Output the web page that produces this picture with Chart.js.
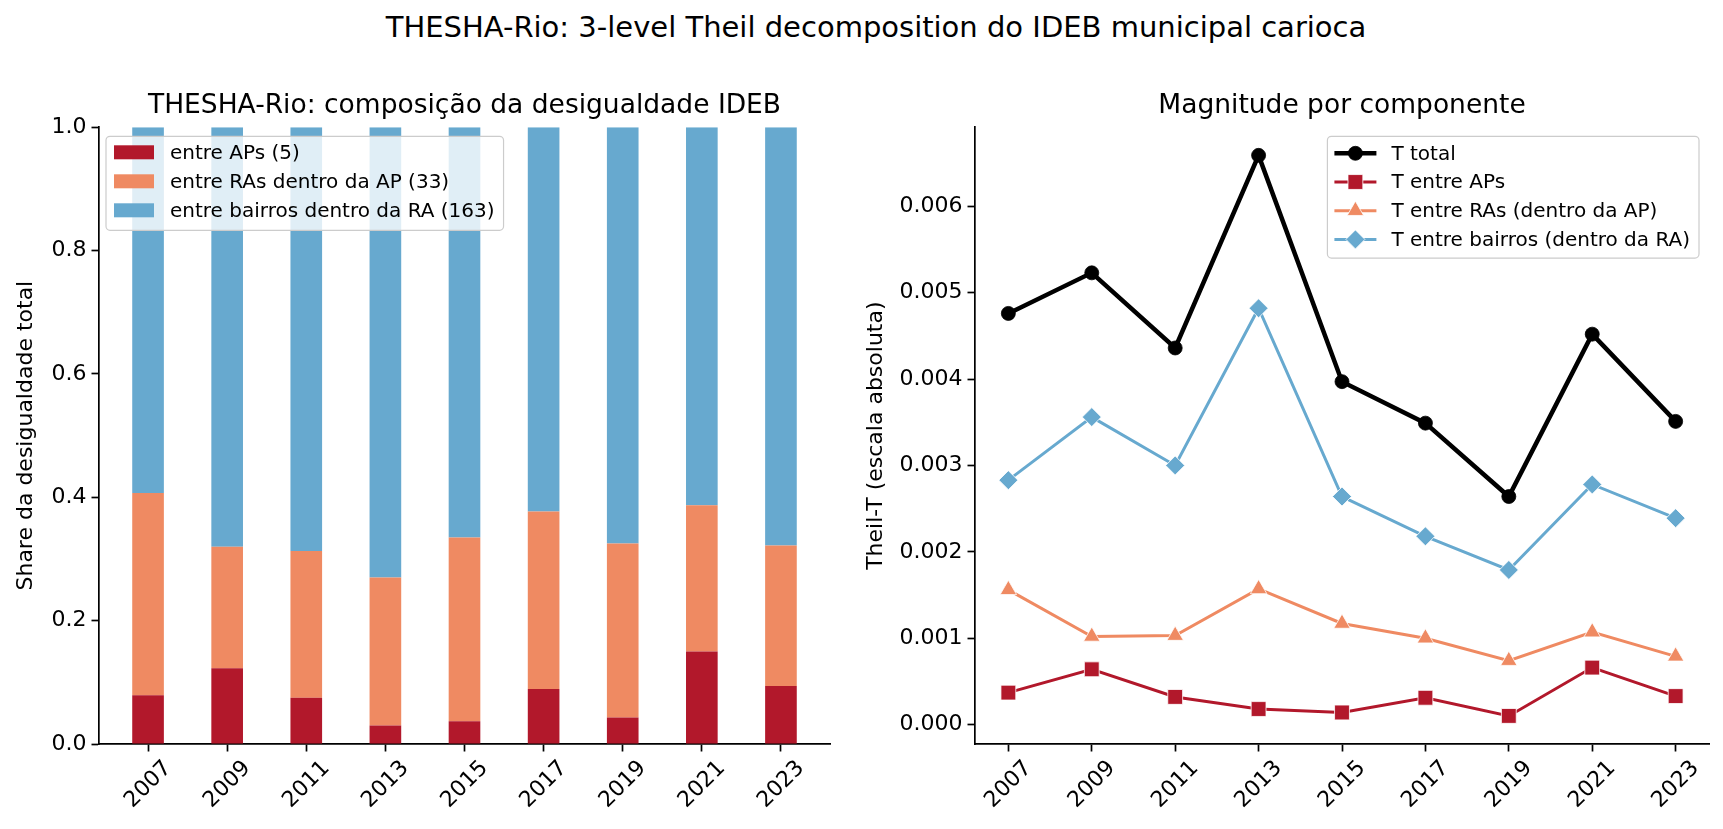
<!DOCTYPE html>
<html>
<head>
<meta charset="utf-8">
<script src="https://cdn.jsdelivr.net/npm/chart.js@4.4.1/dist/chart.umd.min.js"></script>
<style>
  body { margin: 0; background: #fff; width: 1723px; height: 829px; overflow: hidden; position: relative; font-family: 'DejaVu Sans', sans-serif; }
  #suptitle { position: absolute; left: 876px; top: 13px; transform: translateX(-50%); font-size: 29px; line-height: 29px; white-space: nowrap; color: #000; }
  .box { position: absolute; top: 0; height: 829px; }
  #leftBox { left: 0; width: 860px; }
  #rightBox { left: 860px; width: 863px; }
</style>
</head>
<body>
<div id="suptitle">THESHA-Rio: 3-level Theil decomposition do IDEB municipal carioca</div>
<div class="box" id="leftBox"><canvas id="shareChart"></canvas></div>
<div class="box" id="rightBox"><canvas id="magChart"></canvas></div>
<script>
// anos e valores
var years = ['2007', '2009', '2011', '2013', '2015', '2017', '2019', '2021', '2023'];

var shareAPs     = [0.079, 0.123, 0.075, 0.030, 0.037, 0.089, 0.043, 0.150, 0.094];
var shareRAs     = [0.328, 0.197, 0.238, 0.240, 0.298, 0.288, 0.282, 0.237, 0.228];
var shareBairros = [0.593, 0.680, 0.687, 0.730, 0.665, 0.623, 0.675, 0.613, 0.678];

var tTotal   = [0.00476, 0.00523, 0.00436, 0.00659, 0.00397, 0.00349, 0.00264, 0.00452, 0.00351];
var tAPs     = [0.00037, 0.00064, 0.00032, 0.00018, 0.00014, 0.00031, 0.00010, 0.00066, 0.00033];
var tRAs     = [0.00156, 0.00102, 0.00103, 0.00157, 0.00117, 0.00100, 0.00074, 0.00107, 0.00079];
var tBairros = [0.00283, 0.00356, 0.00300, 0.00482, 0.00264, 0.00218, 0.00179, 0.00278, 0.00239];

var C_AP = '#b2182b', C_RA = '#ef8a62', C_BA = '#67a9cf';

Chart.defaults.font.family = "'DejaVu Sans', sans-serif";
Chart.defaults.color = '#000';

function pts(arr) {
    return arr.map(function(v, i) { return {x: i, y: v}; });
}

function drawMarker(ctx, style, x, y, r, fill, stroke, lw) {
    ctx.beginPath();
    if (style === 'circle') {
        ctx.arc(x, y, r, 0, Math.PI * 2);
    } else if (style === 'rect') {
        var s = r * Math.SQRT1_2;
        ctx.rect(x - s, y - s, 2 * s, 2 * s);
    } else if (style === 'triangle') {
        for (var k = 0; k < 3; k++) {
            var a = k * 2 * Math.PI / 3;
            ctx.lineTo(x + Math.sin(a) * r, y - Math.cos(a) * r);
        }
        ctx.closePath();
    } else if (style === 'rectRot') {
        ctx.moveTo(x - r, y);
        ctx.lineTo(x, y - r);
        ctx.lineTo(x + r, y);
        ctx.lineTo(x, y + r);
        ctx.closePath();
    }
    ctx.fillStyle = fill;
    ctx.fill();
    if (lw) {
        ctx.lineWidth = lw;
        ctx.strokeStyle = stroke;
        ctx.stroke();
    }
}

// legenda em caixa dentro da area do grafico (estilo matplotlib)
var boxLegend = {
    id: 'boxLegend',
    afterDraw: function(chart, args, opts) {
        var ctx = chart.ctx, area = chart.chartArea;
        var ds = chart.data.datasets;
        ctx.save();
        ctx.font = '20px "DejaVu Sans"';
        var tw = 0;
        ds.forEach(function(d) { tw = Math.max(tw, ctx.measureText(d.label).width); });
        var w = 64 + tw + 9, h = ds.length * opts.row + 7;
        var x0 = opts.align === 'right' ? area.right - 10 - w : area.left + 7;
        var y0 = area.top + 9;
        ctx.beginPath();
        ctx.roundRect(x0, y0, w, h, 4);
        ctx.fillStyle = 'rgba(255,255,255,0.8)';
        ctx.fill();
        ctx.lineWidth = 1.2;
        ctx.strokeStyle = '#cccccc';
        ctx.stroke();
        ds.forEach(function(d, i) {
            var cy = y0 + opts.first + i * opts.row;
            if (opts.kind === 'patch') {
                ctx.fillStyle = d.backgroundColor;
                ctx.fillRect(x0 + 8, cy - 7, 40, 14);
            } else {
                ctx.beginPath();
                ctx.moveTo(x0 + 7, cy);
                ctx.lineTo(x0 + 49, cy);
                ctx.lineWidth = d.borderWidth;
                ctx.strokeStyle = d.borderColor;
                ctx.stroke();
                drawMarker(ctx, d.pointStyle, x0 + 28, cy, d.pointRadius, d.pointBackgroundColor, d.pointBorderColor, d.pointBorderWidth);
            }
            ctx.fillStyle = '#000';
            ctx.textBaseline = 'middle';
            ctx.textAlign = 'left';
            ctx.fillText(d.label, x0 + 64, cy + 1);
        });
        ctx.restore();
    }
};

function axisX(min, max) {
    return {
        type: 'linear', min: min, max: max, offset: false,
        afterFit: function(s) { s.height = 85; },
        grid: { offset: false, drawOnChartArea: false, tickLength: 7.5, tickWidth: 1.7, tickColor: '#000' },
        border: { color: '#000', width: 1.7 },
        ticks: {
            stepSize: 1, autoSkip: false, includeBounds: false,
            minRotation: 45, maxRotation: 45, labelOffset: 20, padding: 4,
            font: { size: 22 },
            callback: function(v) { return years[v]; }
        }
    };
}

function axisY(width, min, max, step, digits, label, titlePad) {
    return {
        min: min, max: max,
        afterFit: function(s) { s.width = width; },
        grid: { drawOnChartArea: false, tickLength: 7.5, tickWidth: 1.7, tickColor: '#000' },
        border: { color: '#000', width: 1.7 },
        ticks: {
            stepSize: step, includeBounds: false, padding: 5,
            font: { size: 22 },
            callback: function(v) { return v.toFixed(digits); }
        },
        title: { display: true, text: label, font: { size: 22 }, padding: { top: titlePad, bottom: 0 } }
    };
}

function titleOpts(text) {
    return {
        display: true, text: text, fullSize: false,
        font: { size: 26.5, weight: 'normal' },
        padding: { top: 90.5, bottom: 5 }
    };
}

var ctxShare = document.getElementById('shareChart').getContext('2d');
var shareXs = axisX(-0.62, 8.62);
shareXs.stacked = true;
var shareYs = axisY(99, 0, 1, 0.2, 1, 'Share da desigualdade total', 13);
shareYs.stacked = true;
var shareChart = new Chart(ctxShare, {
    type: 'bar',
    data: {
        datasets: [
            { label: 'entre APs (5)', data: pts(shareAPs), backgroundColor: C_AP },
            { label: 'entre RAs dentro da AP (33)', data: pts(shareRAs), backgroundColor: C_RA },
            { label: 'entre bairros dentro da RA (163)', data: pts(shareBairros), backgroundColor: C_BA }
        ]
    },
    options: {
        animation: false,
        responsive: true,
        maintainAspectRatio: false,
        datasets: { bar: { barPercentage: 0.4, categoryPercentage: 1.0 } },
        layout: { padding: { left: 0, right: 30, top: 0, bottom: 0 } },
        plugins: {
            legend: { display: false },
            tooltip: { enabled: false },
            title: titleOpts('THESHA-Rio: composição da desigualdade IDEB'),
            boxLegend: { kind: 'patch', align: 'left', row: 29, first: 16 }
        },
        scales: { x: shareXs, y: shareYs }
    },
    plugins: [boxLegend]
});

function lineSet(label, arr, color, style, radius, width) {
    return {
        label: label, data: pts(arr),
        borderColor: color, backgroundColor: color, borderWidth: width,
        pointStyle: style, pointRadius: radius,
        pointBackgroundColor: color, pointBorderColor: color === '#000000' ? color : '#ffffff',
        pointBorderWidth: 0.8,
        tension: 0, fill: false
    };
}

var ctxMag = document.getElementById('magChart').getContext('2d');
var magChart = new Chart(ctxMag, {
    type: 'line',
    data: {
        datasets: [
            lineSet('T total', tTotal, '#000000', 'circle', 7, 4.5),
            lineSet('T entre APs', tAPs, C_AP, 'rect', 10.5, 3),
            lineSet('T entre RAs (dentro da AP)', tRAs, C_RA, 'triangle', 9.5, 3),
            lineSet('T entre bairros (dentro da RA)', tBairros, C_BA, 'rectRot', 9.5, 3)
        ]
    },
    options: {
        animation: false,
        responsive: true,
        maintainAspectRatio: false,
        layout: { padding: { left: 0, right: 14, top: 0, bottom: 0 } },
        plugins: {
            legend: { display: false },
            tooltip: { enabled: false },
            title: titleOpts('Magnitude por componente'),
            boxLegend: { kind: 'line', align: 'right', row: 28.7, first: 17 }
        },
        scales: {
            x: axisX(-0.4, 8.4),
            y: axisY(115, -0.000225, 0.006915, 0.001, 3, 'Theil-T (escala absoluta)', 3)
        }
    },
    plugins: [boxLegend]
});
</script>
</body>
</html>
